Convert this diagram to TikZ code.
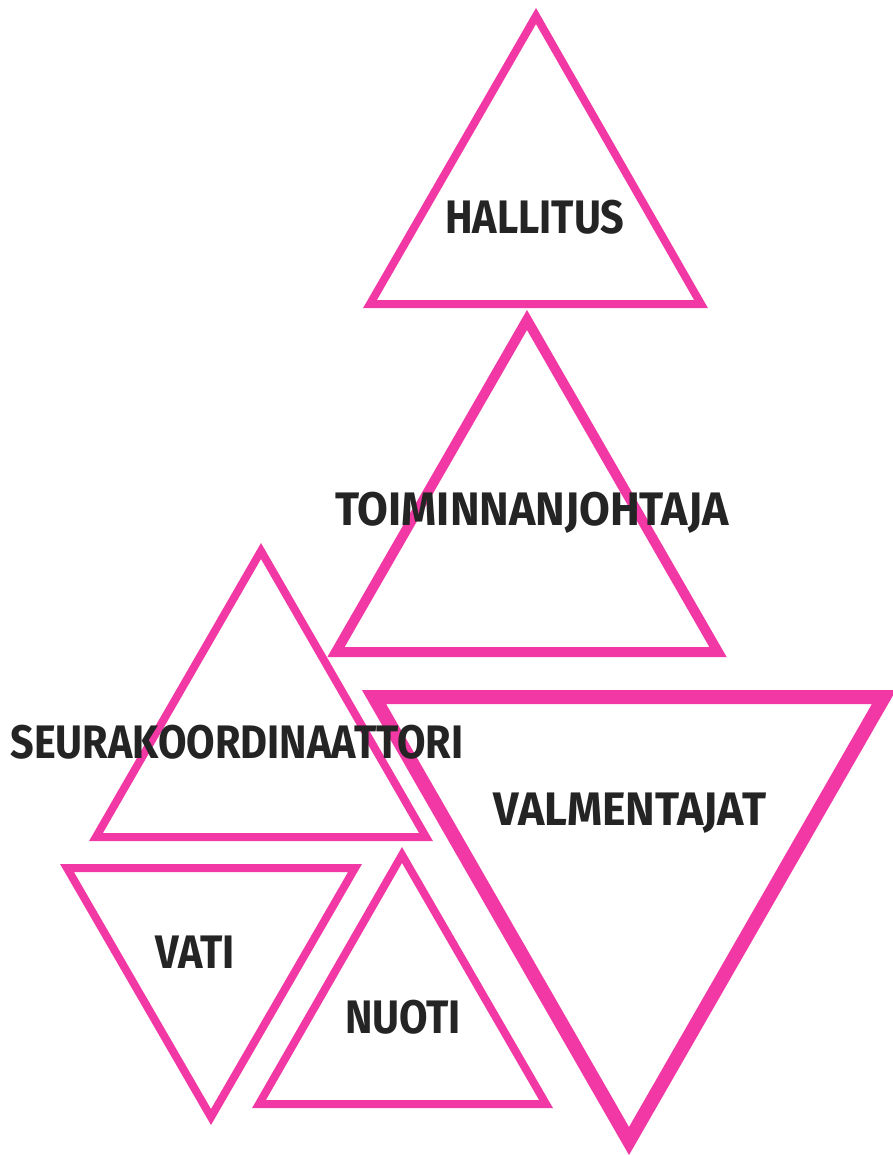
\documentclass[tikz,border=0pt]{standalone}
\usepackage{fontspec}
\usepackage{xcolor}
\usepackage{tikz}
\newfontfamily\brushfont{Fira Sans}[FakeStretch=0.88]
\newfontfamily\brushwide{Fira Sans}[FakeStretch=0.95]
\definecolor{hotpink}{RGB}{242,56,164}
\definecolor{ink}{RGB}{36,36,36}

\begin{document}
\begin{tikzpicture}[
		x=1pt, y=-1pt,
		tri/.style={draw=hotpink, line width=8pt, line join=miter},
		lbl/.style={text=ink, anchor=base, inner sep=0pt,
				font=\brushfont\bfseries\fontsize{47}{47}\selectfont},
		widelbl/.style={lbl, font=\brushwide\bfseries\fontsize{47}{47}\selectfont}
		]
		\useasboundingbox (0,0) rectangle (892,1155);
		% triangles, top to bottom
		\draw[tri] (370,304) -- (701,304) -- (536,16) -- cycle;
		\draw[tri, line width=10pt] (336,652) -- (718,652) -- (527,320) -- cycle;
		\draw[tri] (96,837) -- (426,837) -- (261,551) -- cycle;
		\draw[tri, line width=14pt] (374,697) -- (884,697) -- (629,1141) -- cycle;
		\draw[tri] (67,868) -- (355,868) -- (211,1117) -- cycle;
		\draw[tri] (259,1104) -- (546,1104) -- (402,855) -- cycle;
		% labels
		\node[lbl] (hallitus) at (535,234) {HALLITUS};
		\node[widelbl] (toiminnanjohtaja) at (532,525) {TOIMINNANJOHTAJA};
		\node[lbl] (seurakoordinaattori) at (237,758) {SEURAKOORDINAATTORI};
		\node[widelbl] (valmentajat) at (630,825) {VALMENTAJAT};
		\node[lbl] (vati) at (195,968) {VATI};
		\node[lbl] (nuoti) at (403,1033) {NUOTI};
	\end{tikzpicture}
\end{document}
